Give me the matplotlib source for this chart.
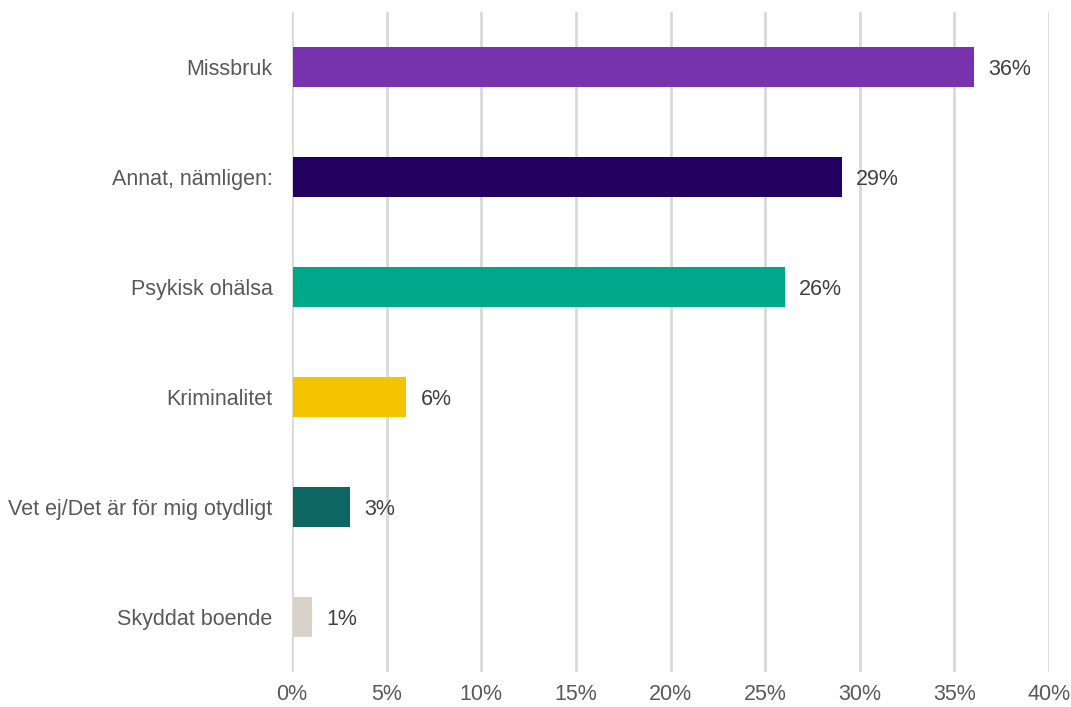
import matplotlib
matplotlib.use("Agg")
import matplotlib.pyplot as plt
from matplotlib.ticker import MultipleLocator, FuncFormatter

categories = ["Missbruk", "Annat, nämligen:", "Psykisk ohälsa", "Kriminalitet",
              "Vet ej/Det är för mig otydligt", "Skyddat boende"]
values = [36, 29, 26, 6, 3, 1]
colors = ["#7732AE", "#22005F", "#00A88A", "#F5C400", "#0E6663", "#D9D2C9"]

plt.rcParams["font.family"] = ["Liberation Sans", "DejaVu Sans"]

fig = plt.figure(figsize=(10.71, 7.07), dpi=100)
ax = fig.add_axes([292 / 1071, 1 - 672 / 707, (1049 - 292) / 1071, 660 / 707])

pos = list(range(len(categories)))
ax.barh(pos, values, height=0.36, color=colors, zorder=3, left=0.05)

for p, v in zip(pos, values):
    ax.text(v + 0.8, p, f"{v}%", va="center_baseline", ha="left",
            fontsize=15.5, color="#404040")

ax.set_xlim(0, 40)
ax.set_ylim(5.5, -0.5)
ax.xaxis.set_major_locator(MultipleLocator(5))
ax.xaxis.set_major_formatter(FuncFormatter(lambda x, _: f"{x:.0f}%"))
ax.set_yticks(pos)
ax.set_yticklabels(categories, va="center_baseline")
ax.grid(axis="x", color="#D9D9D9", linewidth=2, zorder=0)
for s in ax.spines.values():
    s.set_visible(False)
ax.tick_params(axis="both", length=0, labelsize=15.5, colors="#595959")
ax.tick_params(axis="x", pad=9)
ax.tick_params(axis="y", pad=14)

fig.savefig("out.png", dpi=100, facecolor="white")
